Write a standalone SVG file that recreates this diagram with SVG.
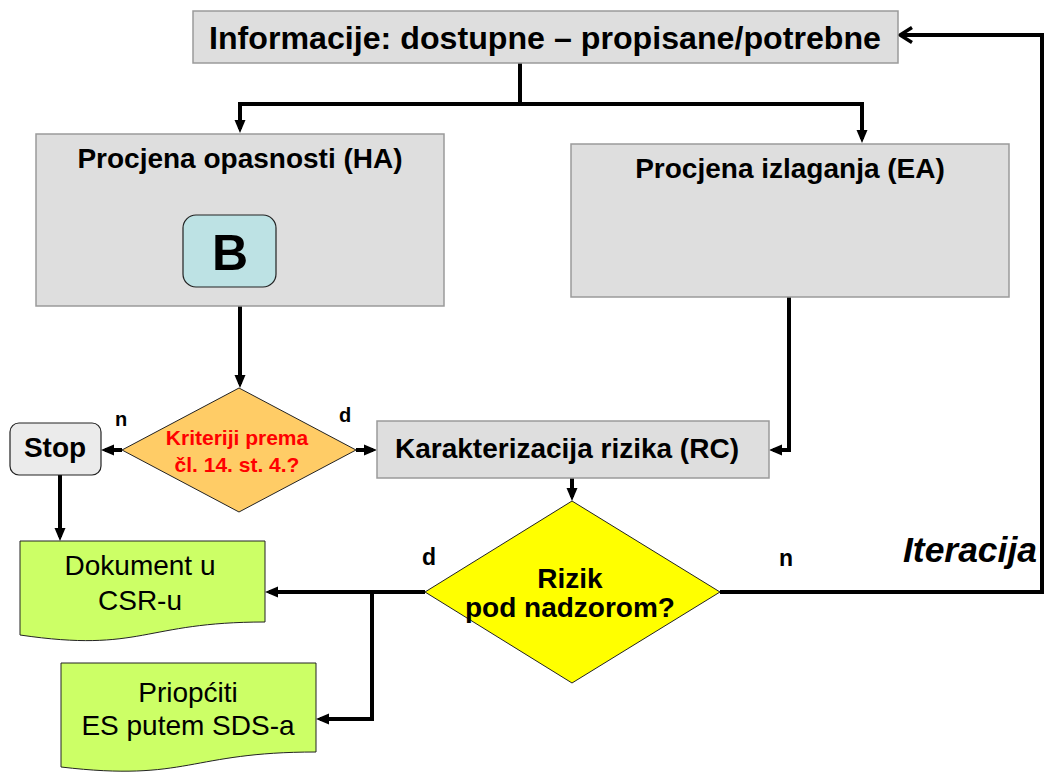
<svg xmlns="http://www.w3.org/2000/svg" width="1045" height="772" viewBox="0 0 1045 772">
<style>
text{font-family:"Liberation Sans",Arial,sans-serif;fill:#000}
.b{font-weight:bold}
.box{fill:#dedede;stroke:#9a9a9a;stroke-width:1.5}
.doc{fill:#ccff66;stroke:#222;stroke-width:1}
.con{fill:none;stroke:#000;stroke-width:4}
</style>
<defs>
<marker id="ah" markerUnits="userSpaceOnUse" markerWidth="13" markerHeight="12" refX="9" refY="6" orient="auto" viewBox="0 0 13 12">
<path d="M0,0.5 L13,6 L0,11.5 Z" fill="#000"/>
</marker>
<marker id="oh" markerUnits="userSpaceOnUse" markerWidth="16" markerHeight="18" refX="14" refY="9" orient="auto" viewBox="0 0 16 18">
<path d="M2,1.5 L14,9 L2,16.5" fill="none" stroke="#000" stroke-width="3.5"/>
</marker>
</defs>
<rect width="1045" height="772" fill="#fff"/>

<g id="connectors">
<path class="con" d="M520,63 V104 H240 V129" marker-end="url(#ah)"/>
<path class="con" d="M518,104 H862 V139" marker-end="url(#ah)"/>
<path class="con" d="M240,306 V384" marker-end="url(#ah)"/>
<path class="con" d="M122,450 H105" marker-end="url(#ah)"/>
<path class="con" d="M356,450 H373" marker-end="url(#ah)"/>
<path class="con" d="M789,297 V450 H773" marker-end="url(#ah)"/>
<path class="con" d="M572,478 V497" marker-end="url(#ah)"/>
<path class="con" d="M720,592 H1042 V35 H900" marker-end="url(#oh)"/>
<path class="con" d="M425,592 H269" marker-end="url(#ah)"/>
<path class="con" d="M372,590 V719 H320" marker-end="url(#ah)"/>
<path class="con" d="M60,475 V537" marker-end="url(#ah)"/>
</g>

<g id="info">
<rect class="box" x="193" y="11" width="705" height="52"/>
<text class="b" x="545" y="49" font-size="32" text-anchor="middle" textLength="672" lengthAdjust="spacingAndGlyphs">Informacije: dostupne – propisane/potrebne</text>
</g>

<g id="ha">
<rect class="box" x="36" y="134" width="408" height="172"/>
<text class="b" x="240" y="168" font-size="28" text-anchor="middle">Procjena opasnosti (HA)</text>
</g>

<g id="b">
<rect x="183" y="215" width="93" height="72" rx="13" fill="#bde2e4" stroke="#222" stroke-width="1.2"/>
<text class="b" x="230" y="270" font-size="50" text-anchor="middle">B</text>
</g>

<g id="ea">
<rect class="box" x="571" y="144" width="438" height="153"/>
<text class="b" x="790" y="178" font-size="28" text-anchor="middle">Procjena izlaganja (EA)</text>
</g>

<g id="criteria">
<polygon points="239,388 356,450 239,512 122,450" fill="#ffcc66" stroke="#222" stroke-width="1"/>
<text class="b" x="237" y="445" font-size="21" text-anchor="middle" style="fill:#ff0000">Kriteriji prema</text>
<text class="b" x="237" y="472" font-size="21" text-anchor="middle" style="fill:#ff0000">čl. 14. st. 4.?</text>
</g>

<g id="labels">
<text class="b" x="121" y="426" font-size="20" text-anchor="middle">n</text>
<text class="b" x="345" y="422" font-size="20" text-anchor="middle">d</text>
<text class="b" x="429" y="565" font-size="23" text-anchor="middle">d</text>
<text class="b" x="786" y="566" font-size="23" text-anchor="middle">n</text>
<text class="b" x="903" y="562" font-size="35" font-style="italic" textLength="134" lengthAdjust="spacingAndGlyphs">Iteracija</text>
</g>

<g id="stop">
<rect x="10" y="423" width="91" height="52" rx="9" fill="#ebebeb" stroke="#222" stroke-width="1.2"/>
<text class="b" x="55" y="457" font-size="28" text-anchor="middle">Stop</text>
</g>

<g id="rc">
<rect class="box" x="377" y="421" width="392" height="57"/>
<text class="b" x="567" y="458" font-size="28" text-anchor="middle">Karakterizacija rizika (RC)</text>
</g>

<g id="risk">
<polygon points="572,501 720,592 572,683 425,592" fill="#ffff00" stroke="#222" stroke-width="1"/>
<text class="b" x="570" y="588" font-size="28" text-anchor="middle">Rizik</text>
<text class="b" x="570" y="617" font-size="28" text-anchor="middle">pod nadzorom?</text>
</g>

<g id="dokument">
<path class="doc" d="M20,541 H265 V622 C142.5,622 142.5,653 20,635 Z"/>
<text x="140" y="575" font-size="28" text-anchor="middle">Dokument u</text>
<text x="140" y="610" font-size="28" text-anchor="middle">CSR-u</text>
</g>

<g id="priopciti">
<path class="doc" d="M61,663 H316 V752 C188.5,752 188.5,782 61,767 Z"/>
<text x="188" y="702" font-size="28" text-anchor="middle">Priopćiti</text>
<text x="188" y="735" font-size="28" text-anchor="middle">ES putem SDS-a</text>
</g>
</svg>
